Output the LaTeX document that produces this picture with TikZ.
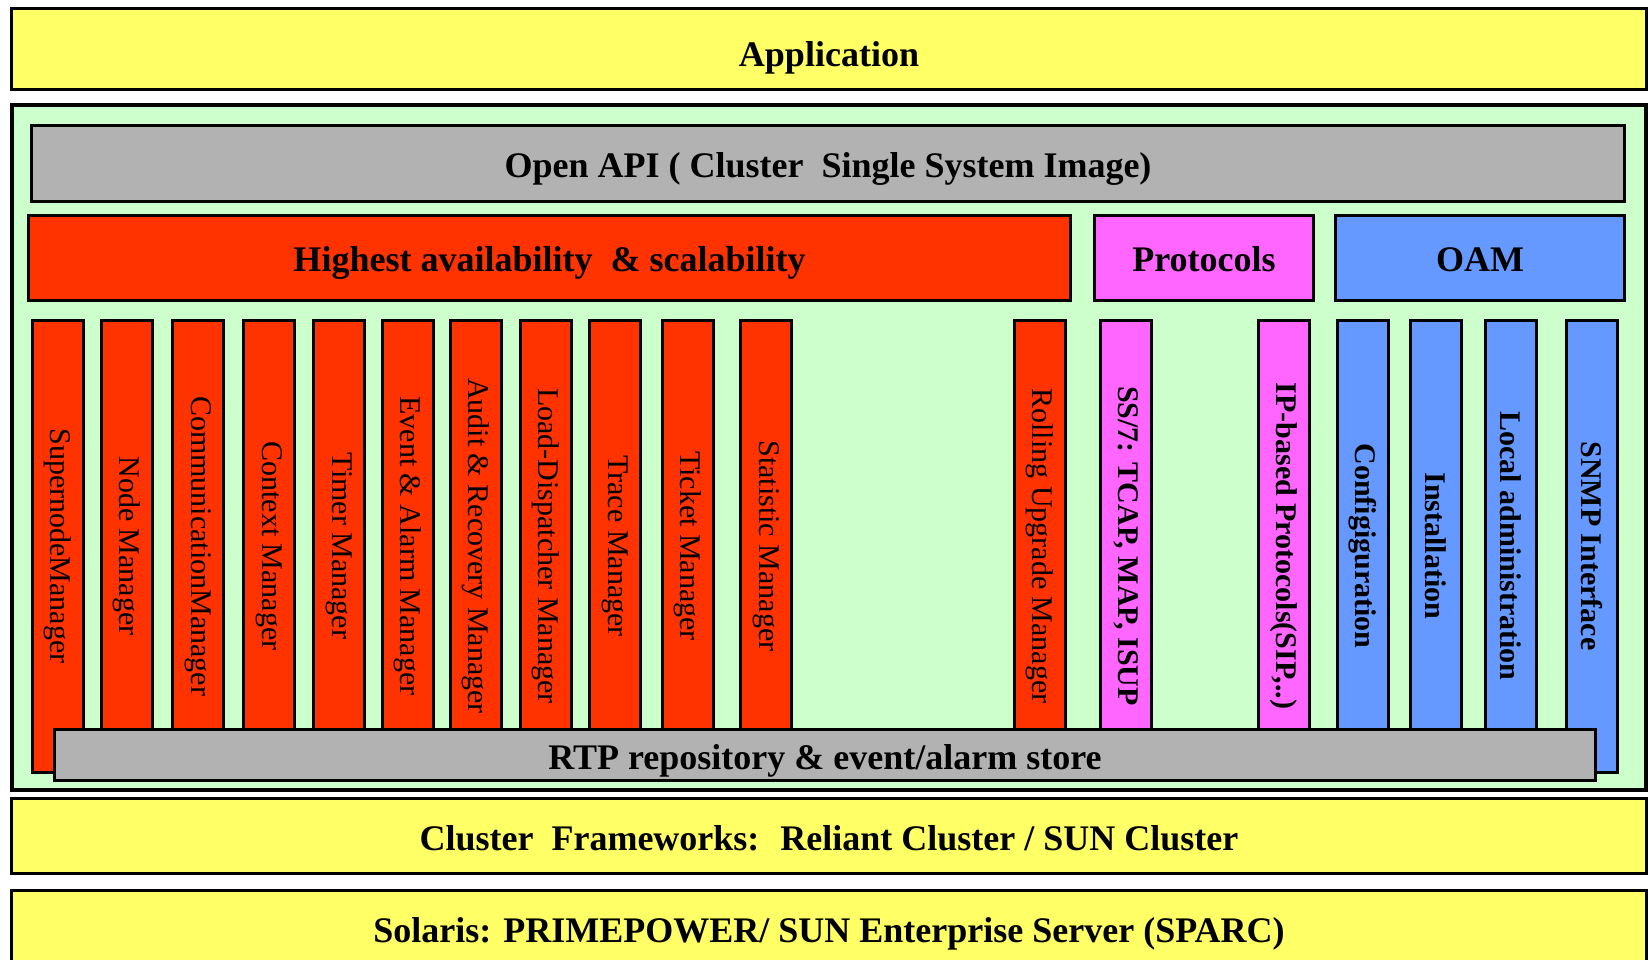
\documentclass[tikz,border=0pt]{standalone}
\usepackage{fontspec}
\setmainfont{Liberation Serif}
\definecolor{appyellow}{RGB}{255,255,102}
\definecolor{bggreen}{RGB}{204,255,204}
\definecolor{apigray}{RGB}{178,178,178}
\definecolor{hared}{RGB}{255,51,0}
\definecolor{protomag}{RGB}{255,102,255}
\definecolor{oamblue}{RGB}{102,153,255}
\usepackage{tikz}

\begin{document}
\begin{tikzpicture}[x=1pt, y=-1pt,
  layer/.style={draw=black, line width=3pt, inner sep=0pt,
    text height=32pt, text depth=4pt,
    font=\bfseries\fontsize{36}{40}\selectfont},
  bar/.style={draw=black, line width=3pt, inner sep=0pt, rotate=-90,
    minimum width=452pt, minimum height=51pt,
    font=\fontsize{30}{34}\selectfont},
  boldbar/.style={bar, font=\bfseries\fontsize{30}{34}\selectfont}]
  \useasboundingbox (0,0) rectangle (1650,960);
  %% 1. Top layer and platform frame
  \node[layer, fill=appyellow, minimum width=1635pt, minimum height=81pt, text height=40pt] (app) at (829,49) {Application};
  \node[draw=black, line width=4.5pt, fill=bggreen, minimum width=1634pt, minimum height=685pt] (platform) at (829,447.5) {};
  \node[layer, fill=apigray, minimum width=1593pt, minimum height=76pt] (api) at (828,163.5) {Open API ( Cluster~ Single System Image)};
  %% 2. Group headers
  \node[layer, fill=hared, minimum width=1042pt, minimum height=85pt] (ha) at (549.5,258) {Highest availability~ \& scalability};
  \node[layer, fill=protomag, minimum width=219pt, minimum height=85pt] (proto) at (1204,258) {Protocols};
  \node[layer, fill=oamblue, minimum width=289pt, minimum height=85pt] (oam) at (1480,258) {OAM};
  %% 3. Component bars
  \foreach \cx/\nm/\txt in {58/super/SupernodeManager, 127/nodemgr/Node Manager,
      198/comm/CommunicationManager, 269/context/Context Manager, 339/timer/Timer Manager,
      408/event/{Event \& Alarm Manager}, 476/audit/{Audit \& Recovery Manager},
      546/load/Load-Dispatcher Manager, 615/trace/Trace Manager, 688/ticket/Ticket Manager,
      766/stat/Statistic Manager, 1040/rolling/Rolling Upgrade Manager}
    \node[bar, fill=hared] (\nm) at (\cx,546) {\txt};
  \foreach \cx/\nm/\txt in {1126/ss7/{SS/7: TCAP, MAP, ISUP}, 1284/ipproto/{IP-based Protocols(SIP,..)}}
    \node[boldbar, fill=protomag] (\nm) at (\cx,546) {\txt};
  \foreach \cx/\nm/\txt in {1363/config/Configiguration, 1436/install/Installation,
      1511/localadm/Local administration, 1592/snmp/SNMP Interface}
    \node[boldbar, fill=oamblue] (\nm) at (\cx,546) {\txt};
  %% 4. Repository and lower layers
  \node[layer, fill=apigray, minimum width=1541pt, minimum height=51pt] (rtp) at (825,755) {RTP repository \& event/alarm store};
  \node[layer, fill=appyellow, minimum width=1635pt, minimum height=75pt] (cluster) at (829,836) {Cluster~ Frameworks:~ Reliant Cluster / SUN Cluster};
  \node[layer, fill=appyellow, minimum width=1635pt, minimum height=76pt] (solaris) at (829,928) {Solaris: PRIMEPOWER/ SUN Enterprise Server (SPARC)};
\end{tikzpicture}
\end{document}
